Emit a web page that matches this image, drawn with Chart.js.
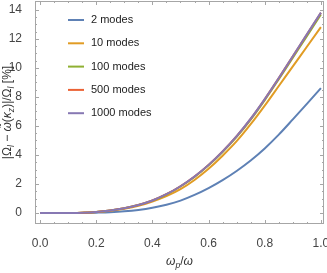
<!DOCTYPE html>
<html lang="en">
<head>
    <meta charset="UTF-8">
    <script src="https://cdn.jsdelivr.net/npm/chart.js@4.4.1/dist/chart.umd.min.js"></script>
    <title>Modes</title>
    <style>
        html, body { margin: 0; padding: 0; background: #fff; }
        #wrap { width: 327px; height: 273px; }
    </style>
</head>
<body>
    <div id="wrap"><canvas id="chart" width="327" height="273"></canvas></div>

    <script>
        // omega_p / omega
        const xValues = [0, 0.05, 0.1, 0.15, 0.2, 0.25, 0.3, 0.35, 0.4, 0.45, 0.5,
                         0.55, 0.6, 0.65, 0.7, 0.75, 0.8, 0.85, 0.9, 0.95, 1.0];
        const modes2 = [0, 0, 0, 0.01, 0.03, 0.06, 0.12, 0.22, 0.37, 0.58, 0.86,
                        1.25, 1.72, 2.27, 2.9, 3.62, 4.45, 5.4, 6.45, 7.52, 8.6];
        const modes10 = [0, 0, 0.01, 0.03, 0.07, 0.16, 0.3, 0.5, 0.8, 1.17, 1.65,
                         2.28, 3.05, 3.95, 4.95, 6.12, 7.4, 8.75, 10.1, 11.45, 12.8];
        const modes100 = [0, 0, 0.01, 0.03, 0.08, 0.18, 0.33, 0.56, 0.86, 1.28, 1.83,
                          2.49, 3.29, 4.21, 5.25, 6.44, 7.78, 9.22, 10.7, 12.18, 13.67];
        const modes500 = [0, 0, 0.01, 0.03, 0.08, 0.18, 0.33, 0.56, 0.87, 1.3, 1.85,
                          2.52, 3.32, 4.25, 5.3, 6.49, 7.84, 9.29, 10.79, 12.29, 13.79];
        const modes1000 = [0, 0, 0.01, 0.03, 0.08, 0.18, 0.33, 0.56, 0.87, 1.3, 1.85,
                           2.52, 3.32, 4.25, 5.3, 6.5, 7.85, 9.3, 10.8, 12.3, 13.8];
        const labels = ["2 modes", "10 modes", "100 modes", "500 modes", "1000 modes"];
        const colors = ["#5e81b5", "#e19c24", "#8fb032", "#eb6235", "#8778b3"];
        const xTicks = [0, 0.2, 0.4, 0.6, 0.8, 1.0];
        const yTicks = [0, 2, 4, 6, 8, 10, 12, 14];

        const series = [modes2, modes10, modes100, modes500, modes1000];
        const FONT = "'Liberation Sans', Arial, sans-serif";

        function drawRich(ctx, parts, cx, cy, size) {
            let total = 0;
            for (const p of parts) {
                ctx.font = (p.it ? "italic " : "") + (p.sub ? size * 0.72 : size) + "px " + FONT;
                p.w = ctx.measureText(p.t).width;
                total += p.w;
            }
            let x = cx - total / 2;
            for (const p of parts) {
                ctx.font = (p.it ? "italic " : "") + (p.sub ? size * 0.72 : size) + "px " + FONT;
                ctx.fillText(p.t, x, cy + (p.sub ? size * 0.3 : 0));
                x += p.w;
            }
        }

        const framePlugin = {
            id: "frame",
            afterDatasetsDraw(chart) {
                const ctx = chart.ctx;
                const a = chart.chartArea;
                const sx = chart.scales.x, sy = chart.scales.y;
                ctx.save();
                ctx.strokeStyle = "#a6a6a6";
                ctx.lineWidth = 1;
                ctx.strokeRect(a.left + 0.5, a.top + 0.5, a.right - a.left - 1, a.bottom - a.top - 1);
                ctx.beginPath();
                for (let v = 0; v <= 1.0001; v += 0.05) {
                    const px = Math.round(sx.getPixelForValue(v)) + 0.5;
                    const len = Math.abs(v / 0.2 - Math.round(v / 0.2)) < 1e-6 ? 4 : 2;
                    ctx.moveTo(px, a.bottom); ctx.lineTo(px, a.bottom - len);
                    ctx.moveTo(px, a.top); ctx.lineTo(px, a.top + len);
                }
                for (let v = 0; v <= 14.001; v += 0.5) {
                    const py = Math.round(sy.getPixelForValue(v)) + 0.5;
                    const len = Math.abs(v / 2 - Math.round(v / 2)) < 1e-6 ? 4 : 2;
                    ctx.moveTo(a.left, py); ctx.lineTo(a.left + len, py);
                    ctx.moveTo(a.right, py); ctx.lineTo(a.right - len, py);
                }
                ctx.stroke();

                // legend
                ctx.textBaseline = "middle";
                ctx.textAlign = "left";
                ctx.font = "11px " + FONT;
                chart.data.datasets.forEach((ds, i) => {
                    const y = 20 + i * 23.3;
                    ctx.strokeStyle = ds.borderColor;
                    ctx.lineWidth = 2;
                    ctx.beginPath();
                    ctx.moveTo(68, y); ctx.lineTo(84, y);
                    ctx.stroke();
                    ctx.fillStyle = "#222";
                    ctx.fillText(ds.label, 91, y);
                });

                // axis titles
                ctx.fillStyle = "#333";
                ctx.textAlign = "left";
                drawRich(ctx, [
                    { t: "ω", it: true }, { t: "p", it: true, sub: true },
                    { t: "/" }, { t: "ω", it: true }
                ], (a.left + a.right) / 2, 262, 12);
                ctx.translate(8, (a.top + a.bottom) / 2);
                ctx.rotate(-Math.PI / 2);
                drawRich(ctx, [
                    { t: "|Ω" }, { t: "l", it: true, sub: true }, { t: " − " },
                    { t: "ω\u0303", it: true }, { t: "(" }, { t: "κ", it: true },
                    { t: "z", it: true, sub: true }, { t: ")|/Ω" },
                    { t: "l", it: true, sub: true }, { t: " [%]" }
                ], 0, 0, 12);
                ctx.restore();
            }
        };

        new Chart(document.getElementById("chart"), {
            type: "line",
            data: {
                datasets: series.map((s, i) => ({
                    label: labels[i],
                    data: s.map((v, j) => ({ x: xValues[j], y: v })),
                    borderColor: colors[i],
                    borderWidth: 2,
                    pointRadius: 0,
                    cubicInterpolationMode: "monotone",
                    order: series.length - i,
                    fill: false
                }))
            },
            options: {
                responsive: false,
                animation: false,
                layout: { padding: { top: 1, right: 3, left: 0, bottom: 0 } },
                plugins: { legend: { display: false }, tooltip: { enabled: false } },
                scales: {
                    x: {
                        type: "linear",
                        min: -0.018,
                        max: 1.011,
                        grid: { display: false },
                        border: { display: false },
                        afterBuildTicks: s => { s.ticks = xTicks.map(v => ({ value: v })); },
                        afterFit: s => { s.height = 49; s.paddingLeft = 0; s.paddingRight = 0; },
                        ticks: {
                            maxRotation: 0,
                            autoSkip: false,
                            padding: 4,
                            color: "#444",
                            font: { family: FONT, size: 12 },
                            callback: v => v.toFixed(1)
                        }
                    },
                    y: {
                        min: -0.75,
                        max: 14.6,
                        grid: { display: false },
                        border: { display: false },
                        afterBuildTicks: s => { s.ticks = yTicks.map(v => ({ value: v })); },
                        afterFit: s => { s.width = 35; s.paddingTop = 0; s.paddingBottom = 0; },
                        ticks: {
                            autoSkip: false,
                            padding: 5,
                            color: "#444",
                            font: { family: FONT, size: 12 }
                        }
                    }
                }
            },
            plugins: [framePlugin]
        });
    </script>
</body>
</html>
